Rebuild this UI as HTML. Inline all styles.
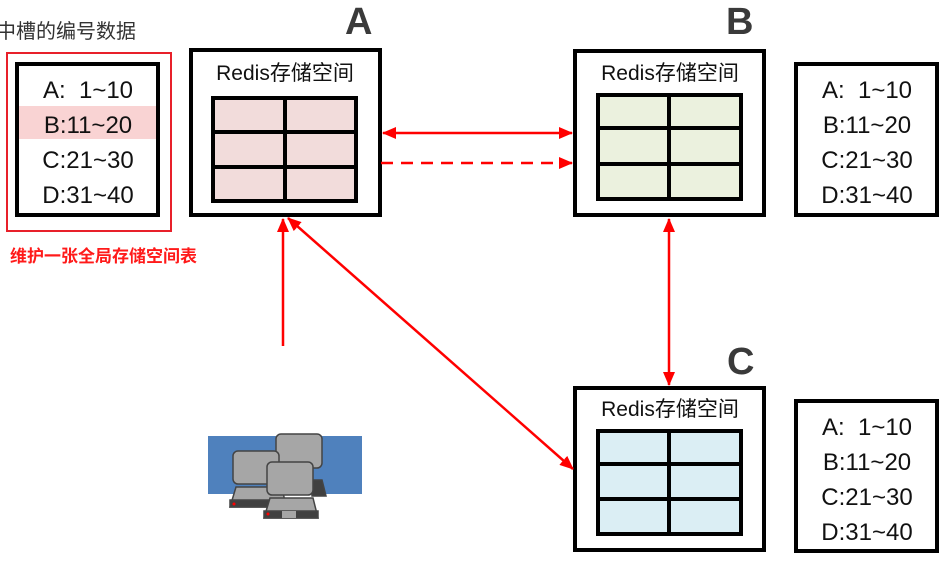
<!DOCTYPE html>
<html><head><meta charset="utf-8"><style>
html,body{margin:0;padding:0;background:#fff;}
svg text{font-family:"Liberation Sans","Noto Sans CJK SC",sans-serif;}
</style></head><body>
<svg width="952" height="560" viewBox="0 0 952 560" xmlns="http://www.w3.org/2000/svg">
<defs>
<marker id="ah" markerWidth="14" markerHeight="14" refX="13" refY="7" orient="auto-start-reverse" markerUnits="userSpaceOnUse" viewBox="0 0 14 14">
<path d="M0,1 L14,7 L0,13 z" fill="#ff0000"/></marker>
</defs>
<text x="-4" y="38" font-size="20" fill="#333">中槽的编号数据</text>
<text x="345" y="34" font-size="38" font-weight="bold" fill="#3a3a3a">A</text>
<text x="726" y="34" font-size="38" font-weight="bold" fill="#3a3a3a">B</text>
<text x="727" y="374" font-size="38" font-weight="bold" fill="#3a3a3a">C</text>

<rect x="7" y="53" width="164" height="178" fill="none" stroke="#e8202a" stroke-width="2"/>
<rect x="17" y="64" width="141" height="151" fill="#fff" stroke="#000" stroke-width="4"/>
<rect x="19" y="106" width="137" height="33" fill="#f9d3d3"/>
<g font-size="24" fill="#111" text-anchor="middle">
<text x="88" y="98" xml:space="preserve">A:  1~10</text><text x="88" y="133">B:11~20</text><text x="88" y="168">C:21~30</text><text x="88" y="203">D:31~40</text>
<text x="867" y="98" xml:space="preserve">A:  1~10</text><text x="867" y="133">B:11~20</text><text x="867" y="168">C:21~30</text><text x="867" y="203">D:31~40</text>
<text x="867" y="435" xml:space="preserve">A:  1~10</text><text x="867" y="470">B:11~20</text><text x="867" y="505">C:21~30</text><text x="867" y="540">D:31~40</text>
</g>
<rect x="796" y="64" width="141" height="151" fill="none" stroke="#000" stroke-width="4"/>
<rect x="796" y="401" width="141" height="150" fill="none" stroke="#000" stroke-width="4"/>
<text x="10" y="262" font-size="17" font-weight="bold" fill="#ff1a1a">维护一张全局存储空间表</text>

<!-- A -->
<rect x="191" y="50" width="189" height="165" fill="#fff" stroke="#000" stroke-width="4"/>
<text x="285" y="80" font-size="21" fill="#111" text-anchor="middle">Redis存储空间</text>
<rect x="213" y="98" width="143" height="103" fill="#f2dcdb" stroke="#000" stroke-width="4"/>
<path d="M285,98V201M213,132H356M213,167H356" stroke="#000" stroke-width="4"/>
<!-- B -->
<rect x="575" y="51" width="189" height="164" fill="#fff" stroke="#000" stroke-width="4"/>
<text x="670" y="80" font-size="21" fill="#111" text-anchor="middle">Redis存储空间</text>
<rect x="598" y="95" width="143" height="104" fill="#ebf1de" stroke="#000" stroke-width="4"/>
<path d="M669,95V199M598,128H741M598,164H741" stroke="#000" stroke-width="4"/>
<!-- C -->
<rect x="575" y="388" width="189" height="162" fill="#fff" stroke="#000" stroke-width="4"/>
<text x="670" y="416" font-size="21" fill="#111" text-anchor="middle">Redis存储空间</text>
<rect x="598" y="431" width="143" height="103" fill="#dbeef4" stroke="#000" stroke-width="4"/>
<path d="M669,431V534M598,464H741M598,499H741" stroke="#000" stroke-width="4"/>

<!-- arrows -->
<g stroke="#ff0000" stroke-width="2.5" fill="none">
<line x1="383" y1="133" x2="572" y2="133" marker-start="url(#ah)" marker-end="url(#ah)"/>
<line x1="381" y1="163" x2="572" y2="163" stroke-dasharray="12,8" marker-end="url(#ah)"/>
<line x1="669" y1="219" x2="669" y2="385" marker-start="url(#ah)" marker-end="url(#ah)"/>
<line x1="283" y1="346" x2="283" y2="219" marker-end="url(#ah)"/>
<line x1="288" y1="218" x2="573" y2="469" marker-start="url(#ah)" marker-end="url(#ah)"/>
</g>

<!-- computers -->
<rect x="208" y="436" width="154" height="58" fill="#4f81bd"/>
<g stroke="#444" stroke-width="1.5">
<path d="M312,480 L322,480 L326,496 L312,496z" fill="#404040"/>
<rect x="276" y="434" width="46" height="34" rx="5" fill="#a6a6a6"/>
<path d="M236,487 L282,487 L286,507 L230,507z" fill="#a6a6a6"/>
<rect x="230" y="500" width="56" height="7" fill="#404040"/>
<rect x="233" y="451" width="46" height="33" rx="5" fill="#a6a6a6"/>
<path d="M270,498 L313,498 L318,518 L264,518z" fill="#a6a6a6"/>
<rect x="264" y="511" width="54" height="7" fill="#404040"/>
<rect x="267" y="462" width="46" height="33" rx="5" fill="#a6a6a6"/>
</g>
<rect x="282" y="511" width="14" height="7" fill="#a6a6a6"/>
<circle cx="234" cy="504" r="1.5" fill="red"/><circle cx="268" cy="514" r="1.5" fill="red"/>
</svg>
</body></html>
